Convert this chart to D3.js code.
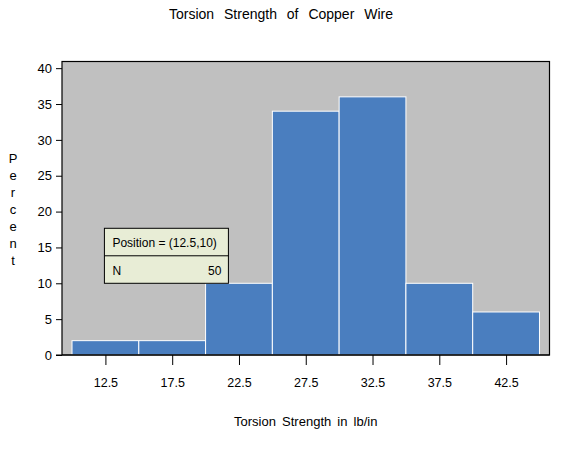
<!DOCTYPE html>
<html>
<head>
<meta charset="utf-8">
<script src="https://cdn.jsdelivr.net/npm/d3@7"></script>
<style>
  body { margin: 0; background: #fff; }
  text { font-family: "Liberation Sans", Arial, sans-serif; fill: #000; }
</style>
</head>
<body>
<svg id="chart" width="565" height="450"></svg>
<script>
// Data
const binMidpoints = [12.5, 17.5, 22.5, 27.5, 32.5, 37.5, 42.5];
const percents = [2, 2, 10, 34, 36, 10, 6];
const yTicks = [0, 5, 10, 15, 20, 25, 30, 35, 40];
const binWidth = 5;
const insetRows = [["Position = (12.5,10)", ""], ["N", "50"]];
const insetAnchor = [12.5, 10];

const svg = d3.select("#chart");
const L = 62, R = 549.5, T = 61.5, B = 355;

const x = d3.scaleLinear().domain([9.25, 45.75]).range([L, R]);
const y = d3.scaleLinear().domain([0, 40.93]).range([B, T]);

// background
svg.append("rect").attr("x", L).attr("y", T).attr("width", R - L).attr("height", B - T)
  .attr("fill", "#c0c0c0");

// bars
svg.append("g").selectAll("rect").data(binMidpoints).join("rect")
  .attr("x", d => x(d - binWidth / 2))
  .attr("width", d => x(d + binWidth / 2) - x(d - binWidth / 2))
  .attr("y", (d, i) => y(percents[i]))
  .attr("height", (d, i) => y(0) - y(percents[i]))
  .attr("fill", "#4a7ebf")
  .attr("stroke", "#ffffff")
  .attr("stroke-width", 1);

// inset box
const bx = x(insetAnchor[0]) - 1, by = y(insetAnchor[1]);
const bw = 124, rowH = 27.5;
const inset = svg.append("g");
inset.append("rect").attr("x", bx).attr("y", by - 2 * rowH).attr("width", bw).attr("height", 2 * rowH)
  .attr("fill", "#e8edd6").attr("stroke", "#000").attr("stroke-width", 1);
inset.append("line").attr("x1", bx).attr("x2", bx + bw)
  .attr("y1", by - rowH).attr("y2", by - rowH).attr("stroke", "#000");
insetRows.forEach((r, i) => {
  const base = by - 2 * rowH + i * rowH + 19;
  inset.append("text").attr("x", bx + 8).attr("y", base).attr("font-size", 12).text(r[0]);
  if (r[1]) inset.append("text").attr("x", bx + bw - 7).attr("y", base)
    .attr("text-anchor", "end").attr("font-size", 12).text(r[1]);
});

// frame
svg.append("rect").attr("x", L).attr("y", T).attr("width", R - L).attr("height", B - T)
  .attr("fill", "none").attr("stroke", "#000").attr("stroke-width", 1.2);

// y axis
const yAxis = svg.append("g").attr("transform", `translate(${L},0)`)
  .call(d3.axisLeft(y).tickValues(yTicks).tickSize(6).tickPadding(4));
yAxis.select(".domain").remove();
yAxis.selectAll("text").attr("font-size", 13).style("font-family", "'Liberation Sans', Arial, sans-serif");

// x axis
const xAxis = svg.append("g").attr("transform", `translate(0,${B})`)
  .call(d3.axisBottom(x).tickValues(binMidpoints).tickFormat(d3.format(".1f")).tickSize(10).tickPadding(13));
xAxis.select(".domain").remove();
xAxis.selectAll("text").attr("font-size", 12.5).style("font-family", "'Liberation Sans', Arial, sans-serif");
svg.append("line").attr("x1", L - 6).attr("x2", R).attr("y1", B).attr("y2", B)
  .attr("stroke", "#000").attr("stroke-width", 1.2);

// titles
svg.append("text").attr("x", 281).attr("y", 19).attr("text-anchor", "middle")
  .attr("font-size", 14).style("word-spacing", "6px").text("Torsion Strength of Copper Wire");
svg.append("text").attr("x", (L + R) / 2).attr("y", 426).attr("text-anchor", "middle")
  .attr("font-size", 13).style("word-spacing", "2.5px").text("Torsion Strength in lb/in");

// vertical stacked y label
const yLabel = "Percent".split("");
svg.append("g").selectAll("text").data(yLabel).join("text")
  .attr("x", 13).attr("y", (d, i) => 163 + i * 17)
  .attr("text-anchor", "middle").attr("font-size", 13).text(d => d);
</script>
</body>
</html>
